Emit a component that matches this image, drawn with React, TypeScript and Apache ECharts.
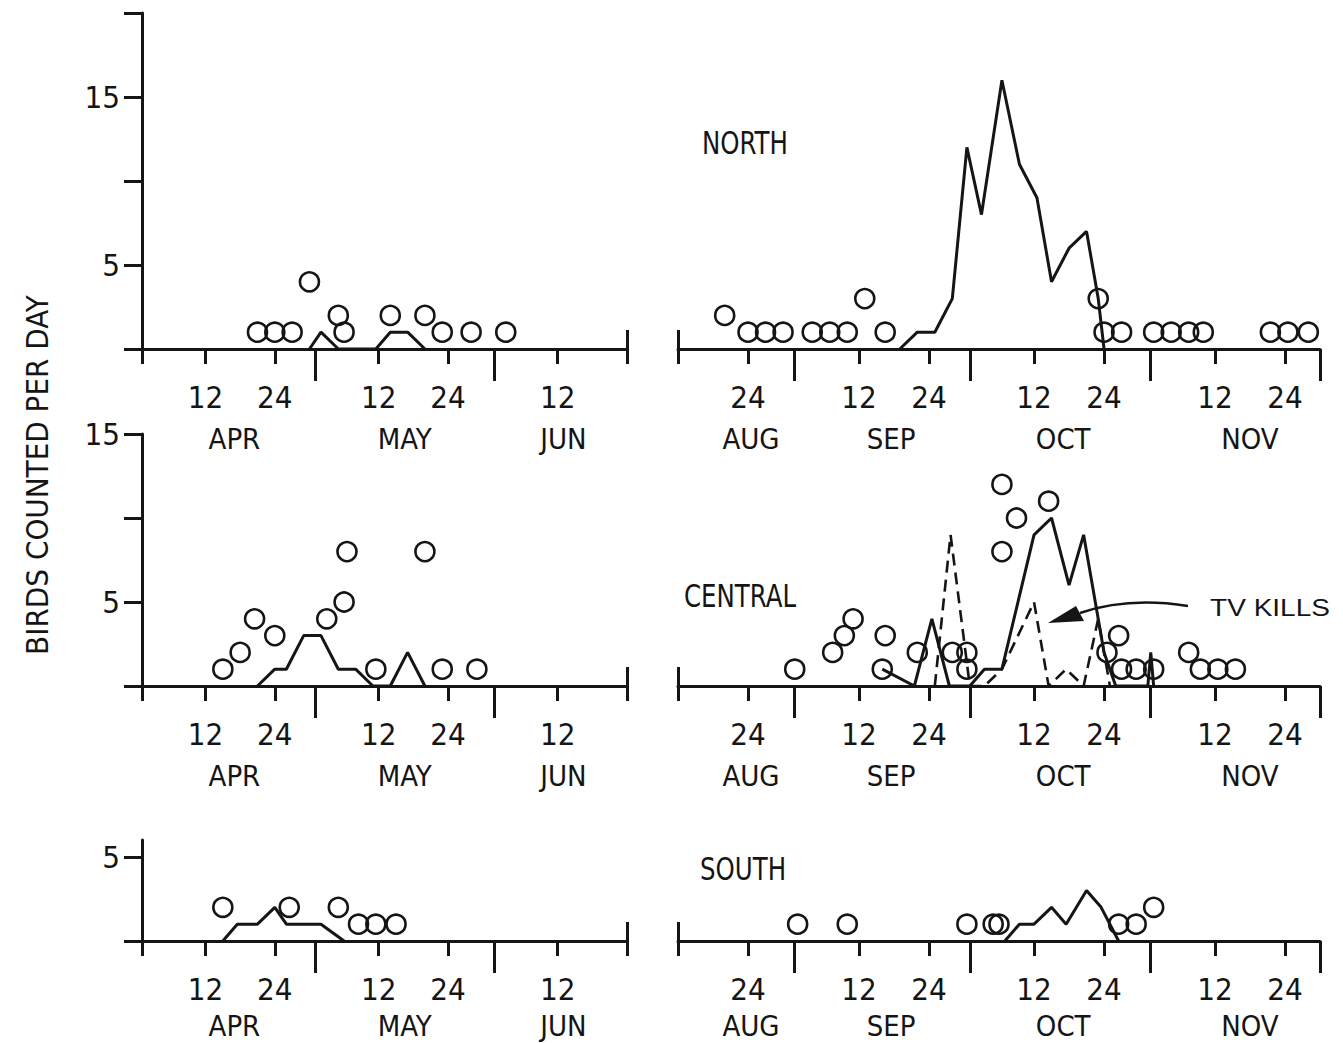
import React, { useEffect, useRef } from 'react';
import * as echarts from 'echarts';

const INK = '#151515';
const FONT = '"Liberation Sans Narrow", "DejaVu Sans Condensed", "Liberation Sans", sans-serif';

// ---- Spring axis (day 0 = 1 April) ----
const springRange = [0, 84];
const springTickDays = [0, 11, 23, 41, 53, 72, 84];
const springTickLabels = ['', '12', '24', '12', '24', '12', ''];
const springMonthBounds = [30, 61];
const springMonthLabelDays = [16, 45.5, 73];
const springMonthNames = ['APR', 'MAY', 'JUN'];
const springUpTicks = [84];

// ---- Fall axis (day 0 = 1 August) ----
const fallRange = [11, 121];
const fallTickDays = [11, 23, 42, 54, 72, 84, 103, 115];
const fallTickLabels = ['', '24', '12', '24', '12', '24', '12', '24'];
const fallMonthBounds = [31, 61, 92, 121];
const fallMonthLabelDays = [23.5, 47.5, 77, 109];
const fallMonthNames = ['AUG', 'SEP', 'OCT', 'NOV'];
const fallUpTicks = [11];

// ---- y axes per row ----
const rowMax = [20, 15, 6];
const rowYTicks = [[0, 5, 10, 15, 20], [0, 5, 10, 15], [0, 5]];
const rowYLabels = [[5, 15], [5, 15], [5]];

// ---- Data: [day, birds per day] ----
const springNorthCircles = [[20, 1], [23, 1], [26, 1], [29, 4], [34, 2], [35, 1], [43, 2], [49, 2], [52, 1], [57, 1], [63, 1]];
const springNorthLine = [[29, 0], [31, 1], [34, 0], [40.5, 0], [43, 1], [46, 1], [49, 0]];

const springCentralCircles = [[14, 1], [17, 2], [19.5, 4], [23, 3], [32, 4], [35, 5], [35.5, 8], [40.5, 1], [49, 8], [52, 1], [58, 1]];
const springCentralLine = [[20, 0], [23, 1], [25, 1], [28, 3], [31, 3], [34, 1], [37, 1], [40, 0], [43, 0], [46, 2], [49, 0]];

const springSouthCircles = [[14, 2], [25.5, 2], [34, 2], [37.5, 1], [40.5, 1], [44, 1]];
const springSouthLine = [[14, 0], [16.5, 1], [20, 1], [23, 2], [25, 1], [31, 1], [35, 0]];

const fallNorthCircles = [[19, 2], [23, 1], [26, 1], [29, 1], [34, 1], [37, 1], [40, 1], [43, 3], [46.5, 1], [83, 3], [84, 1], [87, 1], [92.5, 1], [95.5, 1], [98.5, 1], [101, 1], [112.5, 1], [115.5, 1], [119, 1]];
const fallNorthLine = [[49, 0], [52, 1], [55, 1], [58, 3], [60.5, 12], [63, 8], [66.5, 16], [69.5, 11], [72.5, 9], [75, 4], [78, 6], [81, 7], [83, 3], [84, 0]];

const fallCentralCircles = [[31, 1], [37.5, 2], [39.5, 3], [41, 4], [46, 1], [46.5, 3], [52, 2], [58, 2], [60.5, 2], [60.5, 1], [66.5, 12], [69, 10], [66.5, 8], [74.5, 11], [84.5, 2], [86.5, 3], [87, 1], [89.5, 1], [92.5, 1], [98.5, 2], [100.5, 1], [103.5, 1], [106.5, 1]];
const fallCentralLine = [[46, 1], [51.5, 0], [53, 2], [54.5, 4], [57.5, 0], [61, 0], [63.5, 1], [66.5, 1], [72, 9], [75, 10], [78, 6], [80.5, 9], [84, 2], [86, 0], [91.5, 0], [92, 2], [92.5, 0]];
const fallCentralTvKills = [[55, 0], [57.7, 9], [61, 0], [63.5, 0], [66.5, 1], [72, 5], [74.5, 0], [77.5, 1], [80.5, 0], [83, 4], [85, 0]];

const fallSouthCircles = [[31.5, 1], [40, 1], [60.5, 1], [65, 1], [66, 1], [86.5, 1], [89.5, 1], [92.5, 2]];
const fallSouthLine = [[67, 0], [69.5, 1], [72, 1], [75, 2], [77.5, 1], [81, 3], [83.5, 2], [86.5, 0]];

const panelLabels = ['NORTH', 'CENTRAL', 'SOUTH'];
const yTitle = 'BIRDS COUNTED PER DAY';
const annotation = 'TV KILLS';

const panels = [
  { row: 0, col: 0, circles: springNorthCircles, solid: springNorthLine, dashed: null },
  { row: 0, col: 1, circles: fallNorthCircles, solid: fallNorthLine, dashed: null },
  { row: 1, col: 0, circles: springCentralCircles, solid: springCentralLine, dashed: null },
  { row: 1, col: 1, circles: fallCentralCircles, solid: fallCentralLine, dashed: fallCentralTvKills },
  { row: 2, col: 0, circles: springSouthCircles, solid: springSouthLine, dashed: null },
  { row: 2, col: 1, circles: fallSouthCircles, solid: fallSouthLine, dashed: null },
];

// Layout (pixels)
const colLayout = [{ left: 142, width: 485 }, { left: 678, width: 642 }];
const rowLayout = [
  { top: 13, height: 336, monthMargin: 75 },
  { top: 434, height: 252, monthMargin: 75 },
  { top: 840, height: 101, monthMargin: 70 },
];

function buildOption() {
  const grid: any[] = [];
  const xAxis: any[] = [];
  const yAxis: any[] = [];
  const series: any[] = [];
  const lineStyle = { color: INK, width: 3 };

  panels.forEach((p, i) => {
    const c = colLayout[p.col];
    const r = rowLayout[p.row];
    grid.push({ left: c.left, width: c.width, top: r.top, height: r.height, containLabel: false });

    const spring = p.col === 0;
    const range = spring ? springRange : fallRange;
    const tickDays = spring ? springTickDays : fallTickDays;
    const tickLabels = spring ? springTickLabels : fallTickLabels;
    const bounds = spring ? springMonthBounds : fallMonthBounds;
    const mDays = spring ? springMonthLabelDays : fallMonthLabelDays;
    const mNames = spring ? springMonthNames : fallMonthNames;
    const upTicks = spring ? springUpTicks : fallUpTicks;

    const base = { gridIndex: i, type: 'value', min: range[0], max: range[1], position: 'bottom', splitLine: { show: false } };
    xAxis.push({
      ...base,
      axisLine: { show: true, onZero: false, lineStyle },
      axisTick: { show: true, customValues: tickDays, length: 15, lineStyle },
      axisLabel: {
        show: true, customValues: tickDays,
        formatter: (v: number) => tickLabels[tickDays.indexOf(v)] ?? '',
        fontSize: 31, fontFamily: FONT, color: INK, margin: 32,
      },
    });
    xAxis.push({
      ...base,
      axisLine: { show: false, onZero: false },
      axisTick: { show: true, customValues: bounds, length: 32, lineStyle },
      axisLabel: {
        show: true, customValues: mDays,
        formatter: (v: number) => mNames[mDays.indexOf(v)] ?? '',
        fontSize: 29, fontFamily: FONT, color: INK, margin: r.monthMargin,
      },
    });
    xAxis.push({
      ...base,
      axisLine: { show: false, onZero: false },
      axisTick: { show: true, inside: true, customValues: upTicks, length: 19, lineStyle },
      axisLabel: { show: false },
    });

    const yt = rowYTicks[p.row];
    const yl = rowYLabels[p.row];
    yAxis.push({
      gridIndex: i, type: 'value', min: 0, max: rowMax[p.row], show: spring,
      splitLine: { show: false },
      axisLine: { show: true, onZero: false, lineStyle },
      axisTick: { show: true, customValues: yt, length: 18, lineStyle },
      axisLabel: {
        show: true, customValues: yl, formatter: (v: number) => String(v),
        fontSize: 31, fontFamily: FONT, color: INK, margin: 22,
      },
    });

    series.push({
      type: 'line', xAxisIndex: 3 * i, yAxisIndex: i, data: p.solid, symbol: 'none',
      lineStyle: { color: INK, width: 3 }, z: 2, silent: true,
    });
    if (p.dashed) {
      series.push({
        type: 'line', xAxisIndex: 3 * i, yAxisIndex: i, data: p.dashed, symbol: 'none',
        lineStyle: { color: INK, width: 2.6, type: [12, 7] }, z: 2, silent: true,
      });
    }
    series.push({
      type: 'scatter', xAxisIndex: 3 * i, yAxisIndex: i, data: p.circles, symbol: 'circle', symbolSize: 19,
      itemStyle: { color: 'rgba(0,0,0,0)', borderColor: INK, borderWidth: 2.6, opacity: 1 }, z: 3, silent: true,
    });
  });

  const label = (text: string, x: number, y: number) => ({
    type: 'text', x, y, scaleX: 0.85, silent: true,
    style: { text, fill: INK, fontSize: 32, fontFamily: FONT, align: 'left', verticalAlign: 'middle' },
  });

  const graphic: any[] = [
    label(panelLabels[0], 702, 143),
    label(panelLabels[1], 684, 596),
    label(panelLabels[2], 700, 869),
    {
      type: 'text', x: 1210, y: 608, scaleX: 1.22, silent: true,
      style: { text: annotation, fill: INK, fontSize: 23, fontFamily: '"Liberation Sans", sans-serif', align: 'left', verticalAlign: 'middle' },
    },
    {
      type: 'text', x: 37, y: 475, rotation: Math.PI / 2, silent: true,
      style: { text: yTitle, fill: INK, fontSize: 31, fontFamily: FONT, align: 'center', verticalAlign: 'middle' },
    },
    {
      type: 'bezierCurve', silent: true,
      shape: { x1: 1188, y1: 606, cpx1: 1150, cpy1: 600, cpx2: 1112, cpy2: 602, x2: 1080, y2: 613 },
      style: { stroke: INK, lineWidth: 2.5, fill: null },
    },
    {
      type: 'polygon', silent: true,
      shape: { points: [[1048, 623], [1076, 606], [1084, 621]] },
      style: { fill: INK },
    },
  ];

  return {
    animation: false,
    backgroundColor: '#ffffff',
    grid, xAxis, yAxis, series, graphic,
  };
}

export default function App() {
  const ref = useRef<HTMLDivElement>(null);
  useEffect(() => {
    if (!ref.current) return;
    const chart = echarts.init(ref.current, undefined, { renderer: 'svg' });
    chart.setOption(buildOption() as any);
    return () => chart.dispose();
  }, []);
  return <div ref={ref} style={{ position: 'absolute', left: 0, top: 0, width: 1343, height: 1043 }} />;
}
